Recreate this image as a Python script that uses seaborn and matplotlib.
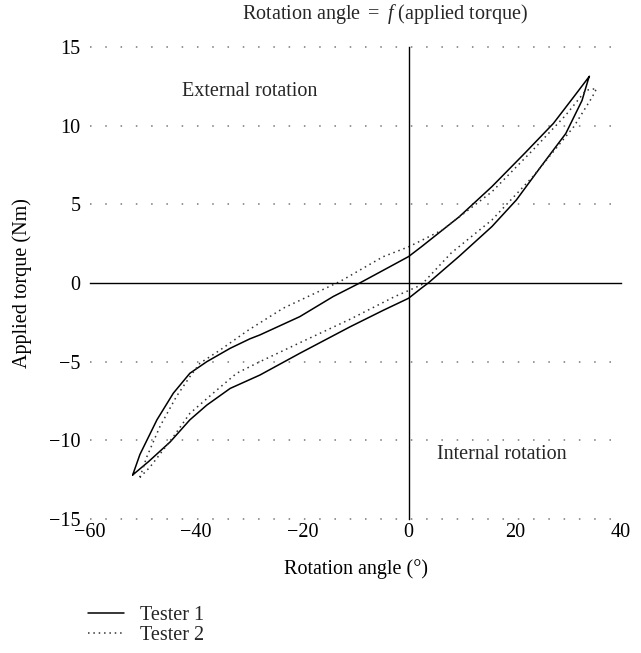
import matplotlib
matplotlib.use("Agg")
import matplotlib.pyplot as plt
import seaborn as sns
import pandas as pd

# Hysteresis loops (angle in degrees, torque in Nm)
tester1_angle = [-51.96, -50.6, -47.4, -44.3, -41.2, -38.0, -33.6, -29.9, -28.0, -20.5,
                 -14.2, -9.2, -3.5, 0.0, 2.4, 9.5, 15.7, 21.85, 27.26, 31.1, 34.05,
                 33.8, 32.66, 29.6, 24.9, 20.3, 15.7, 9.5, 3.7, 2.4, 0.0, -4.8, -11.0,
                 -20.5, -28.0, -33.6, -38.0, -41.2, -44.9, -49.0, -51.96]
tester1_torque = [-12.2, -10.9, -8.7, -7.0, -5.74, -5.0, -4.15, -3.55, -3.3, -2.14,
                  -0.86, 0.0, 1.04, 1.68, 2.3, 4.2, 6.13, 8.24, 10.14, 11.83, 13.14,
                  12.9, 11.6, 9.5, 7.39, 5.28, 3.59, 1.69, 0.0, -0.33, -0.97, -1.74, -2.78,
                  -4.47, -5.85, -6.7, -7.76, -8.7, -10.1, -11.36, -12.2]

tester2_angle = [-50.6, -49.3, -46.8, -43.7, -41.2, -39.3, -35.5, -30.2, -23.6, -12.9,
                 -4.8, 0.0, 2.4, 6.4, 15.7, 23.4, 29.6, 33.4, 35.4,
                 34.6, 31.1, 23.4, 15.7, 8.0, 2.4, 0.0, -2.6, -11.0, -20.5, -28.0,
                 -32.4, -36.8, -41.2, -44.3, -48.7, -50.6]
tester2_torque = [-12.35, -11.05, -9.1, -7.2, -5.96, -5.1, -4.26, -3.0, -1.6, 0.1,
                  1.67, 2.3, 2.7, 3.38, 5.8, 8.45, 10.67, 12.25, 12.36,
                  11.83, 9.93, 6.76, 4.01, 1.9, -0.12, -0.48, -0.86, -2.3, -3.8, -5.0,
                  -5.74, -7.0, -8.29, -9.77, -11.7, -12.35]

x_ticks = [-60, -40, -20, 0, 20, 40]
y_ticks = [-15, -10, -5, 0, 5, 10, 15]

df = pd.concat([
    pd.DataFrame({"angle": tester1_angle, "torque": tester1_torque, "tester": "Tester 1"}),
    pd.DataFrame({"angle": tester2_angle, "torque": tester2_torque, "tester": "Tester 2"}),
])

sns.set_theme(style="white")
plt.rcParams["font.family"] = ["Liberation Serif", "DejaVu Serif"]
plt.rcParams["mathtext.fontset"] = "custom"
plt.rcParams["mathtext.rm"] = "Liberation Serif"
plt.rcParams["mathtext.it"] = "Liberation Serif:italic"

FS = 14.5

fig = plt.figure(figsize=(6.41, 6.53), dpi=100)
ax = fig.add_axes([90 / 641, 1 - 519 / 653, 531 / 641, 472 / 653])

sns.lineplot(data=df, x="angle", y="torque", hue="tester", style="tester",
             units="tester", estimator=None, sort=False,
             palette={"Tester 1": "black", "Tester 2": "#333333"},
             dashes={"Tester 1": "", "Tester 2": (1, 2.5)},
             linewidth=1.1, legend=False, ax=ax)

ax.set_xlim(-60, 40)
ax.set_ylim(-15, 15)
ax.set_xticks(x_ticks)
ax.set_yticks(y_ticks)
ax.set_xticklabels([str(v).replace("-", "\u2212") for v in x_ticks])
ax.set_yticklabels([str(v).replace("-", "\u2212") for v in y_ticks])
for s in ax.spines.values():
    s.set_visible(False)
ax.tick_params(axis="both", length=0, labelsize=FS, colors="black")
ax.tick_params(axis="x", pad=3)
ax.tick_params(axis="y", pad=7)
ax.grid(False)
for yv in y_ticks:
    if yv != 0:
        ax.axhline(yv, color="#777777", lw=1.1, ls=(0, (1, 9)), clip_on=False, zorder=0)

ax.set_xlabel("Rotation angle (°)", fontsize=FS, labelpad=12, color="black")
ax.set_ylabel("Applied torque (Nm)", fontsize=FS, labelpad=12, color="black")

# overlay axes for the cross through the origin
ax2 = fig.add_axes(ax.get_position(), sharex=ax, sharey=ax)
ax2.patch.set_visible(False)
ax2.spines["top"].set_visible(False)
ax2.spines["right"].set_visible(False)
ax2.spines["left"].set_position(("data", 0))
ax2.spines["bottom"].set_position(("data", 0))
for s in ("left", "bottom"):
    ax2.spines[s].set_color("black")
    ax2.spines[s].set_linewidth(1.0)
ax2.tick_params(axis="x", direction="in", length=4, width=1, color="black", labelbottom=False)
ax2.tick_params(axis="y", direction="out", length=4, width=1, color="black", labelleft=False)
ax2.set_xlabel("")
ax2.set_ylabel("")

ax.text(-30, 12.2, "External rotation", fontsize=FS, ha="center", va="center")
ax.text(17.6, -10.9, "Internal rotation", fontsize=FS, ha="center", va="center")

fig.text(385 / 641, 1 - 14 / 653, "Rotation angle $=$ $f$ (applied torque)",
         fontsize=FS, ha="center", va="center")

handles = [plt.Line2D([], [], color="black", lw=1.1),
           plt.Line2D([], [], color="#333333", lw=1.1, ls=(0, (1, 2.5)))]
fig.legend(handles, ["Tester 1", "Tester 2"], loc="upper left",
           bbox_to_anchor=(88 / 641, 1 - 606 / 653), frameon=False, fontsize=FS,
           handlelength=1.8, handletextpad=0.8, labelspacing=0.05,
           borderpad=0, borderaxespad=0)

fig.savefig("out.png", dpi=100)
